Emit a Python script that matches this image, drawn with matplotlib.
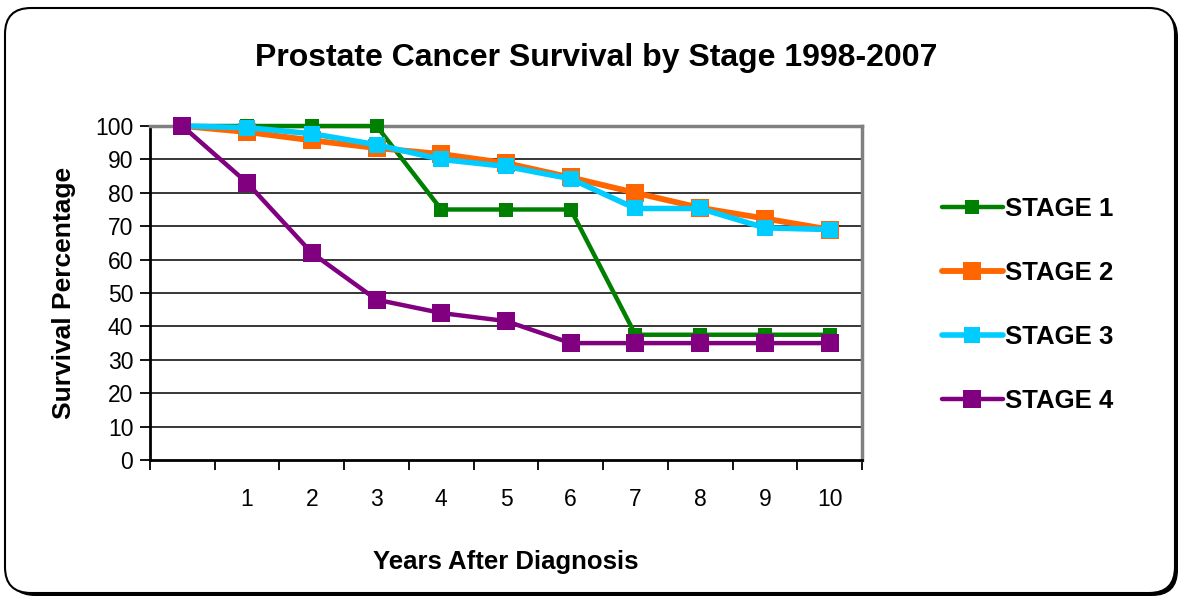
import matplotlib
matplotlib.use("Agg")
import matplotlib.pyplot as plt
from matplotlib.patches import FancyBboxPatch
from matplotlib.transforms import IdentityTransform

plt.rcParams['font.family'] = ['Liberation Sans', 'DejaVu Sans']

categories = ["", "1", "2", "3", "4", "5", "6", "7", "8", "9", "10"]
stage1 = [100, 100, 100, 100, 75, 75, 75, 37.5, 37.5, 37.5, 37.5]
stage2 = [100, 98.2, 95.7, 93.4, 91.6, 88.9, 84.6, 80, 75.5, 72.3, 69]
stage3 = [100, 99.5, 97.7, 94.4, 90, 87.9, 84.2, 75.3, 75.3, 69.5, 69]
stage4 = [100, 83, 62, 48, 44, 41.6, 35, 35, 35, 35, 35]
series_names = ["STAGE 1", "STAGE 2", "STAGE 3", "STAGE 4"]
colors = ["#008000", "#FF6600", "#00CCFF", "#800080"]

W, H = 1180, 598
fig = plt.figure(figsize=(W/100, H/100), dpi=100)

# outer rounded frame with shadow
shadow = FancyBboxPatch((9, 2), 1169, 585, boxstyle="round,pad=0,rounding_size=26",
                        transform=IdentityTransform(), facecolor="black", edgecolor="none", zorder=0)
frame = FancyBboxPatch((5, 5), 1170, 585, boxstyle="round,pad=0,rounding_size=26",
                       transform=IdentityTransform(), facecolor="white", edgecolor="black",
                       linewidth=1.5, zorder=1)
fig.patches.append(shadow)
fig.patches.append(frame)

ax = fig.add_axes([150/W, (H-460)/H, 712/W, 334/H])
ax.set_zorder(2)
ax.patch.set_alpha(0)

x = list(range(len(categories)))
data = [stage1, stage2, stage3, stage4]
msizes = [10.5, 13.5, 11, 13.5]
lwidths = [3.2, 4.2, 4.0, 3.2]
zord = [3, 4, 5, 6]
for vals, name, c, ms, lw, z in zip(data, series_names, colors, msizes, lwidths, zord):
    ax.plot(x, vals, color=c, marker="s", markersize=ms, linewidth=lw,
            label=name, zorder=z, markeredgewidth=0, solid_capstyle="round", clip_on=False)

ax.set_xlim(-0.5, len(categories) - 0.5)
ax.set_ylim(0, 100)
ax.set_yticks(range(0, 101, 10))
ax.set_yticklabels([str(v) for v in range(0, 101, 10)], fontsize=16.5)
ax.set_xticks([i - 0.5 for i in range(len(categories) + 1)])
ax.set_xticklabels([])
ax.set_xticks(x, minor=True)
ax.set_xticklabels(categories, minor=True, fontsize=16.5)
ax.tick_params(axis="x", which="major", length=7, width=1.3, direction="out", color="black")
ax.tick_params(axis="x", which="minor", length=0, pad=20)
ax.tick_params(axis="y", length=7, width=1.3, direction="out", pad=5, color="black")

for v in range(10, 100, 10):
    ax.axhline(v, color="black", linewidth=1.1, zorder=1)

ax.spines["left"].set_color("black")
ax.spines["left"].set_linewidth(2)
ax.spines["bottom"].set_color("black")
ax.spines["bottom"].set_linewidth(2)
ax.spines["top"].set_color("#808080")
ax.spines["top"].set_linewidth(2.5)
ax.spines["right"].set_color("#808080")
ax.spines["right"].set_linewidth(2.5)

ax.set_ylabel("Survival Percentage", fontsize=19, fontweight="bold", labelpad=14)
ax.set_xlabel("Years After Diagnosis", fontsize=18.5, fontweight="bold", labelpad=28)

fig.text(596/W, 1 - 58/H, "Prostate Cancer Survival by Stage 1998-2007",
         ha="center", va="center", fontsize=23, fontweight="bold")

ax.legend(loc="center left", bbox_to_anchor=(932/712 - 150/712, 0.5 - 12/334), frameon=False,
          prop={"weight": "bold", "size": 18.5}, handlelength=2.35,
          handletextpad=0.08, labelspacing=1.55, borderaxespad=0, markerscale=1.0)

fig.savefig("out.png", dpi=100)
